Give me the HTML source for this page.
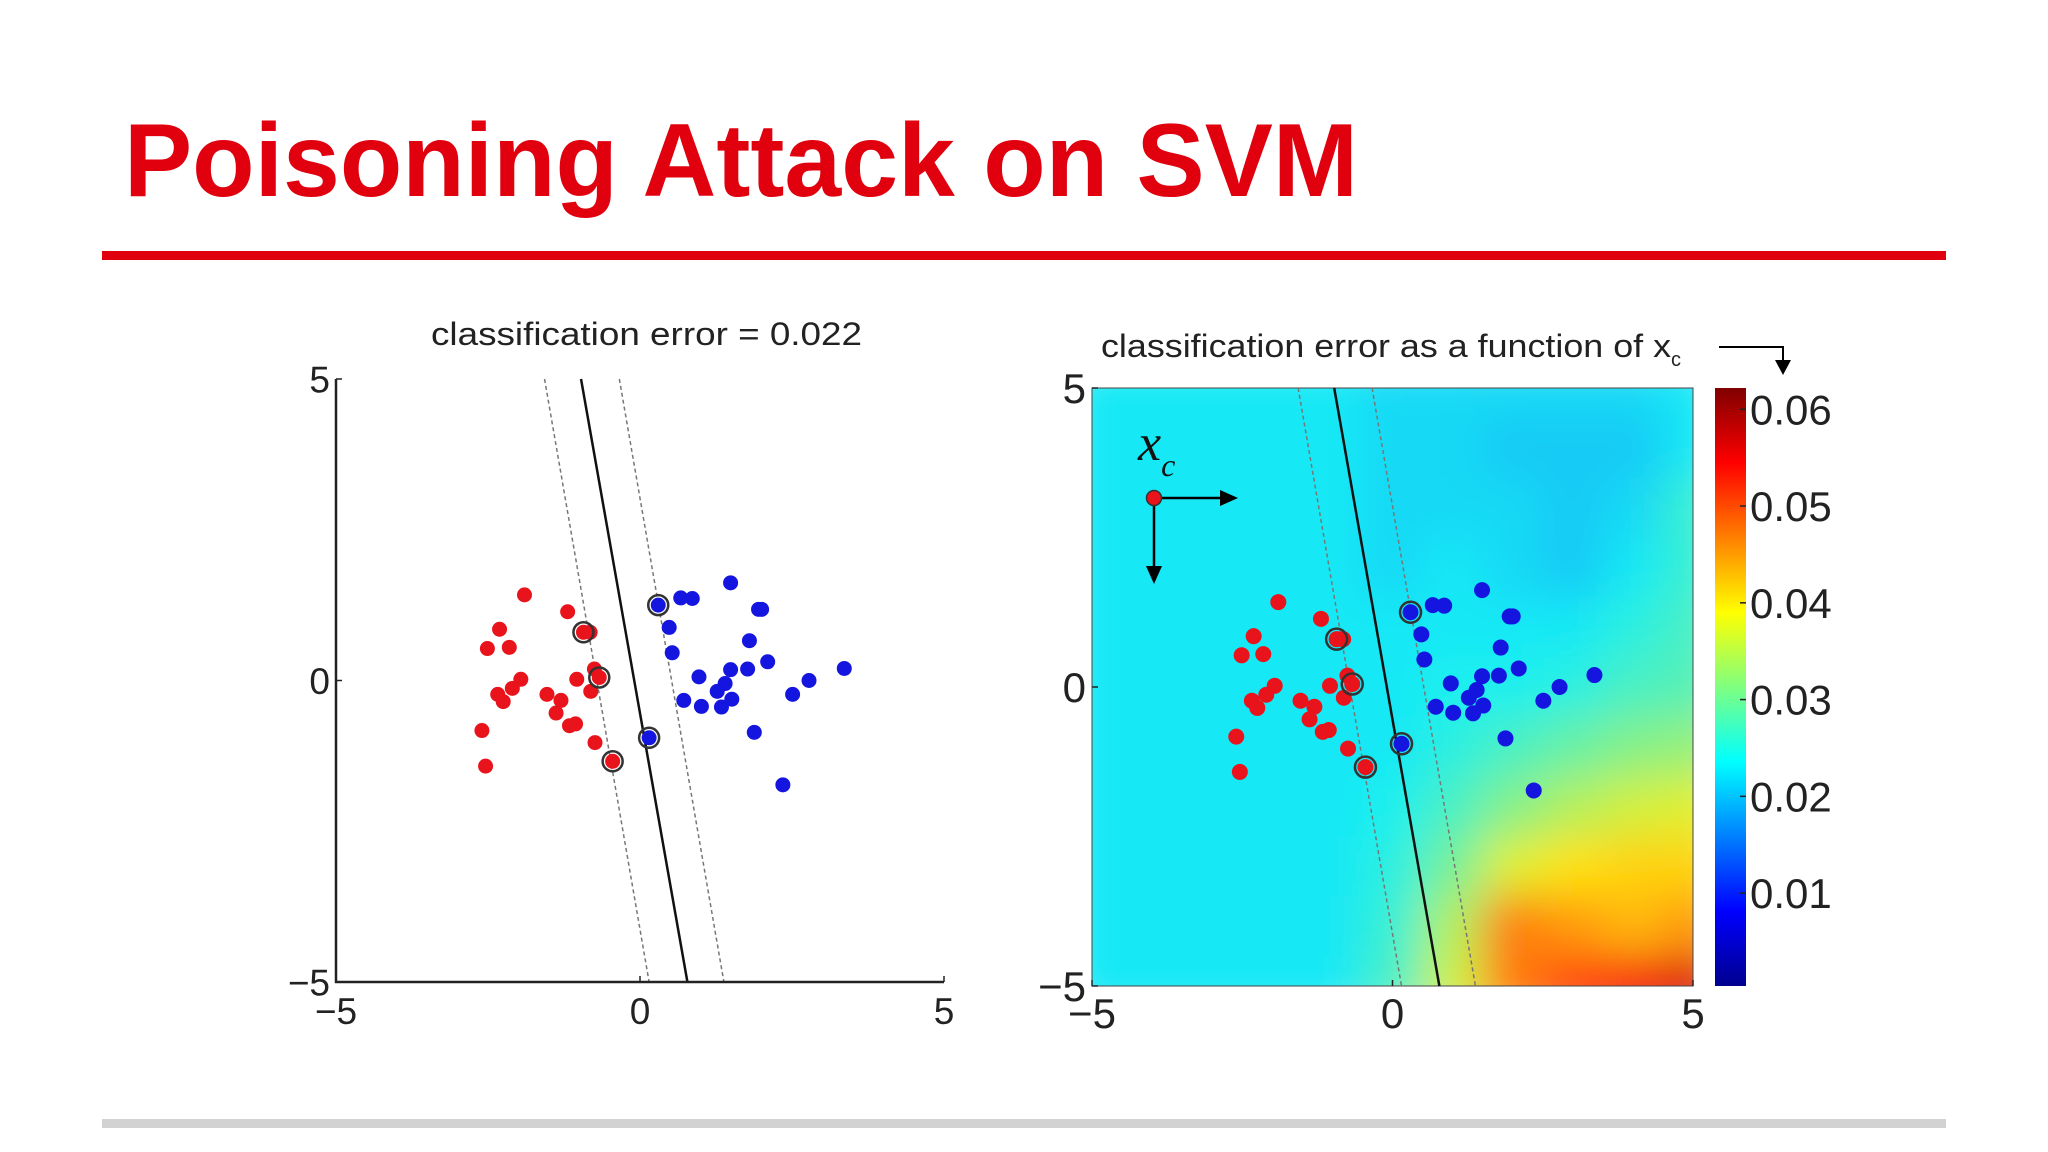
<!DOCTYPE html>
<html><head><meta charset="utf-8"><style>
html,body{margin:0;padding:0;background:#fff;width:2048px;height:1152px;overflow:hidden}
svg{display:block}
text{font-family:"Liberation Sans",sans-serif}
</style></head><body>
<svg id="s" width="2048" height="1152" viewBox="0 0 2048 1152" xmlns="http://www.w3.org/2000/svg">
<defs>
<filter id="blur" x="0" y="0" width="1" height="1"><feGaussianBlur stdDeviation="22"/></filter>
<clipPath id="hclip"><rect x="1092" y="388" width="601" height="598"/></clipPath>
<linearGradient id="jet" x1="0" y1="1" x2="0" y2="0">
<stop offset="0" stop-color="#00008f"/><stop offset="0.125" stop-color="#0000ff"/><stop offset="0.375" stop-color="#00ffff"/><stop offset="0.625" stop-color="#ffff00"/><stop offset="0.875" stop-color="#ff0000"/><stop offset="1" stop-color="#800000"/>
</linearGradient>
</defs>
<text x="124" y="196" font-size="104" font-weight="bold" fill="#e0000e" textLength="1234" lengthAdjust="spacingAndGlyphs">Poisoning Attack on SVM</text>
<rect x="102" y="251" width="1844" height="9" fill="#e0000e"/>
<rect x="102" y="1119" width="1844" height="9" fill="#d2d2d2"/>
<text x="431" y="345" font-size="32" fill="#222" textLength="431" lengthAdjust="spacingAndGlyphs">classification error = 0.022</text>
<text x="1101" y="357" font-size="32" fill="#222"><tspan textLength="570" lengthAdjust="spacingAndGlyphs">classification error as a function of x</tspan><tspan font-size="20" dy="9">c</tspan></text>
<g>
<polyline points="1719,347 1783,347 1783,362" fill="none" stroke="#000" stroke-width="2"/>
<polygon points="1775,360 1791,360 1783,375" fill="#000"/>
</g>
<g id="left"></g>
<g id="right"></g>
</svg>
<script>
const redX=[-1.90,-1.19,-2.31,-2.51,-2.15,-0.93,-0.82,-0.75,-0.67,-1.04,-1.96,-2.10,-2.34,-2.25,-1.53,-1.30,-0.81,-1.38,-1.16,-1.06,-2.60,-0.74,-2.54,-0.45];
const redY=[1.42,1.14,0.85,0.53,0.55,0.80,0.80,0.19,0.05,0.02,0.02,-0.13,-0.23,-0.35,-0.23,-0.33,-0.18,-0.54,-0.75,-0.72,-0.83,-1.03,-1.42,-1.34];
const redSV=[5,8,23];
const blueX=[1.49,0.67,0.86,0.30,1.95,2.00,0.48,1.80,0.53,2.10,1.49,1.77,3.36,0.97,1.40,1.27,2.78,1.51,0.72,1.01,1.34,2.51,1.88,0.15,2.35];
const blueY=[1.62,1.37,1.36,1.25,1.18,1.18,0.88,0.66,0.46,0.31,0.18,0.19,0.20,0.06,-0.05,-0.18,0.00,-0.31,-0.33,-0.43,-0.44,-0.23,-0.86,-0.95,-1.73];
const blueSV=[3,23];
const boundaryTopX=-0.97, boundaryBotX=0.78;
const marginLTopX=-1.57, marginLBotX=0.15;
const marginRTopX=-0.34, marginRBotX=1.38;
const axisTicks=[-5,0,5];
const axisTickLabels=["\u22125","0","5"];
const cbTicks=[0.01,0.02,0.03,0.04,0.05,0.06];
const cbTickLabels=["0.01","0.02","0.03","0.04","0.05","0.06"];
const cbMin=0.0004, cbMax=0.0622;
// heatmap grid (x = -5..5, rows y = 5..-5), values in thousandths
const gridX=[-5,-4,-3,-2,-1,0,1,2,3,4,5];
const gridY=[5,4,3,2,1,0,-1,-2,-3,-4,-5];
const errGrid=[
[23,23,23,23,23,22,22,22,22,22,23],
[23,23,23,23,23,22,22,21,21,21,23],
[23,23,23,23,23,22,22,22,21,22,26],
[23,23,23,23,23,22,23,22,21,23,26],
[23,23,23,23,23,23,23,23,23,25,27],
[23,23,23,23,23,23,24,24,25,27,28],
[23,23,23,23,23,23,25,27,29,31,32],
[23,23,23,23,23,24,27,31,34,36,37],
[23,23,23,23,23,25,30,37,40,41,41],
[23,23,23,23,23,26,34,47,45,43,45],
[23,23,23,23,23,27,36,47,51,55,57]];

const NS="http://www.w3.org/2000/svg";
function mk(tag,attrs,parent){const e=document.createElementNS(NS,tag);for(const k in attrs)e.setAttribute(k,attrs[k]);parent.appendChild(e);return e;}
function jet(v){let t=(v-cbMin)/(cbMax-cbMin);t=Math.max(0,Math.min(1,t));
 const r=Math.max(0,Math.min(1,1.5-Math.abs(4*t-3))),g=Math.max(0,Math.min(1,1.5-Math.abs(4*t-2))),b=Math.max(0,Math.min(1,1.5-Math.abs(4*t-1)));
 return `rgb(${Math.round(r*235+20)},${Math.round(g*225+15)},${Math.round(b*230+15)})`;}

function drawPlot(g,x0,x1,y0,y1,fs,heat){
 const sx=v=>x0+(v+5)/10*(x1-x0), sy=v=>y1-(v+5)/10*(y1-y0);
 if(heat){
  const hg=mk('g',{'clip-path':'url(#hclip)'},g);
  const inner=mk('g',{filter:'url(#blur)'},hg);
  const cw=(x1-x0)/10, ch=(y1-y0)/10;
  for(let r=0;r<gridY.length;r++)for(let c=0;c<gridX.length;c++){
   const cell=mk('rect',{x:sx(gridX[c])-cw/2,y:sy(gridY[r])-ch/2,width:cw+1,height:ch+1,fill:jet(errGrid[r][c]/1000)},inner);
   
   
  }
  const fr=mk('rect',{x:x0,y:y0,width:x1-x0,height:y1-y0,fill:'none',stroke:'#444','stroke-width':1},g);
  
  
 }
 const lines=[[marginLTopX,marginLBotX,'4 3','#777',1.5,'margin-left'],[marginRTopX,marginRBotX,'4 3','#777',1.5,'margin-right'],[boundaryTopX,boundaryBotX,'','#111',2.5,'decision-boundary']];
 for(const L of lines){const a={x1:sx(L[0]),y1:sy(5),x2:sx(L[1]),y2:sy(-5),stroke:L[3],'stroke-width':L[4]};if(L[2])a['stroke-dasharray']=L[2];
  const ln=mk('line',a,g);}
 const r=heat?8:7.5;
 redX.forEach((v,i)=>{const c=mk('circle',{cx:sx(v),cy:sy(redY[i]),r:r,fill:'#e8131b'},g);
  });
 blueX.forEach((v,i)=>{const c=mk('circle',{cx:sx(v),cy:sy(blueY[i]),r:r,fill:'#1515e0'},g);
  });
 redSV.forEach(i=>{const c=mk('circle',{cx:sx(redX[i]),cy:sy(redY[i]),r:r+2.5,fill:'none',stroke:'#333','stroke-width':2.5},g);
  });
 blueSV.forEach(i=>{const c=mk('circle',{cx:sx(blueX[i]),cy:sy(blueY[i]),r:r+2.5,fill:'none',stroke:'#333','stroke-width':2.5},g);
  });
 if(!heat){
  const ax=mk('path',{d:`M${x0} ${y0}V${y1}H${x1}`,fill:'none',stroke:'#222','stroke-width':2.5},g);
  
 }
 axisTicks.forEach((t,i)=>{
  const tx=mk('text',{x:sx(t),y:y1+42,'font-size':fs,'text-anchor':'middle',fill:'#222'},g);tx.textContent=axisTickLabels[i];
  
  const ty=mk('text',{x:x0-6,y:sy(t)+fs*0.36,'font-size':fs,'text-anchor':'end',fill:'#222'},g);ty.textContent=axisTickLabels[i];
  
  mk('line',{x1:sx(t),y1:y1,x2:sx(t),y2:y1-6,stroke:'#222','stroke-width':1.5},g);
  mk('line',{x1:x0,y1:sy(t),x2:x0+6,y2:sy(t),stroke:'#222','stroke-width':1.5},g);
 });
 return {sx,sy};
}
drawPlot(document.getElementById('left'),336,944,379,982,37,false);
const R=document.getElementById('right');
const rs=drawPlot(R,1092,1693,388,986,42,true);
// x_c annotation
const ann=mk('g',{},R);


const ax0=1154, ay0=498;
mk('line',{x1:ax0,y1:ay0,x2:1225,y2:ay0,stroke:'#000','stroke-width':2.5},ann);
mk('polygon',{points:`1220,${ay0-8} 1238,${ay0} 1220,${ay0+8}`,fill:'#000'},ann);
mk('line',{x1:ax0,y1:ay0,x2:ax0,y2:570,stroke:'#000','stroke-width':2.5},ann);
mk('polygon',{points:`${ax0-8},566 ${ax0+8},566 ${ax0},584`,fill:'#000'},ann);
mk('circle',{cx:ax0,cy:ay0,r:7.5,fill:'#e8131b',stroke:'#333','stroke-width':1.5},ann);
const xl=mk('text',{x:1138,y:460,'font-size':52,'font-style':'italic',style:'font-family:"Liberation Serif",serif',fill:'#111'},ann);
xl.innerHTML='x<tspan font-size="32" dy="16">c</tspan>';
// colorbar
const cb=mk('g',{},R);


mk('rect',{x:1715,y:388,width:31,height:598,fill:'url(#jet)'},cb);
const cy=v=>986-(v-cbMin)/(cbMax-cbMin)*598;
cbTicks.forEach((t,i)=>{
 mk('line',{x1:1740,y1:cy(t),x2:1746,y2:cy(t),stroke:'#222','stroke-width':1.5},cb);
 const tt=mk('text',{x:1750,y:cy(t)+15,'font-size':42,fill:'#222'},cb);tt.textContent=cbTickLabels[i];
 
 
});
</script>
</body></html>
